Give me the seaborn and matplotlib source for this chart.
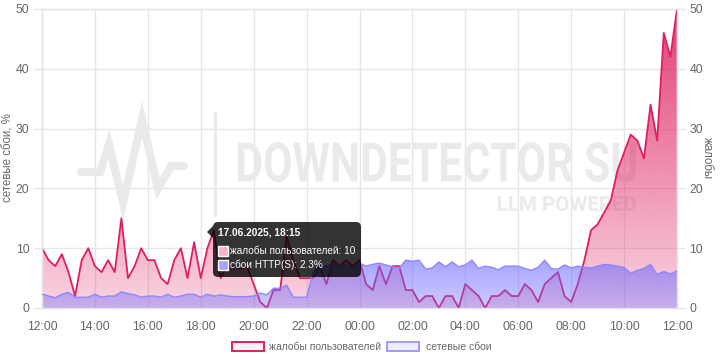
import numpy as np
import pandas as pd
import seaborn as sns
import matplotlib.pyplot as plt
import matplotlib.dates as mdates
from matplotlib.patches import FancyBboxPatch, Rectangle, Polygon, PathPatch
from matplotlib.lines import Line2D
from matplotlib.textpath import TextPath
from matplotlib.font_manager import FontProperties
from matplotlib.transforms import Affine2D

# complaints per 15 min, 17.06.2025 12:00 -> 18.06.2025 12:00
complaints = [10, 8, 7, 9, 6, 2, 8, 10, 7, 6, 8, 6, 15, 5, 7, 10,
              8, 8, 5, 4, 8, 10, 5, 11, 5, 10, 13, 5, 7, 7, 6.5, 7,
              4, 1, 0, 3, 3, 12, 8, 5, 5, 5, 7, 4, 8, 7, 8, 7,
              8, 4, 3, 7, 4, 7, 7, 3, 3, 1, 2, 2, 0, 2, 2, 0,
              4, 3, 2, 0, 2, 2, 3, 2, 2, 4, 3, 1, 4, 5, 6, 2,
              1, 4, 8, 13, 14, 16, 18, 23, 26, 29, 28, 25, 34, 28, 46, 42,
              50]
# network failures, %
failures = [2.3, 2.0, 1.7, 2.3, 2.6, 1.8, 1.8, 1.8, 2.3, 1.8, 2.0, 2.0, 2.7, 2.4, 2.2, 1.8,
            2.0, 2.0, 1.8, 2.3, 1.8, 2.0, 2.3, 2.3, 1.8, 2.3, 2.0, 2.2, 2.0, 1.9, 1.9, 1.9,
            2.0, 2.5, 2.2, 3.3, 3.3, 3.8, 1.8, 1.8, 1.8, 6.0, 7.2, 7.0, 7.3, 7.0, 7.2, 6.8,
            7.5, 7.0, 7.3, 7.5, 7.2, 6.9, 6.7, 8.0, 7.8, 8.0, 6.5, 6.7, 7.7, 6.9, 7.7, 6.9,
            7.2, 8.0, 6.6, 7.0, 6.8, 6.4, 7.0, 7.0, 7.0, 6.6, 6.3, 6.8, 8.0, 6.6, 6.5, 7.2,
            6.7, 7.0, 6.8, 6.7, 7.0, 7.3, 7.2, 7.0, 6.8, 5.8, 6.3, 6.6, 7.3, 5.6, 6.1, 5.7,
            6.2]
times = pd.date_range("2025-06-17 12:00", periods=len(complaints), freq="15min")
x_ticks = pd.date_range("2025-06-17 12:00", "2025-06-18 12:00", freq="2h")
y_ticks = [0, 10, 20, 30, 40, 50]

df = pd.DataFrame({"time": times, "complaints": complaints, "failures": failures})

PINK = "#e01f5f"
PURPLE = "#8f86ff"
GRID = "#e6e6e6"
TXT = "#666666"
WM = "#e9eaec"

sns.set_theme(style="white")
plt.rcParams['font.family'] = ['Liberation Sans', 'DejaVu Sans']

fig = plt.figure(figsize=(7.2, 3.6), dpi=100)
# pixel coords of the picture (y down) -> figure
px = Affine2D().scale(1 / 720, -1 / 360).translate(0, 1) + fig.transFigure

ax = fig.add_axes([42 / 720, 52 / 360, 635 / 720, 299 / 360])   # left: failures
ax2 = ax.twinx()                                                  # right: complaints
ax.set_zorder(2)
ax2.set_zorder(1)
ax.patch.set_visible(False)
ax2.patch.set_visible(True)
ax2.patch.set_facecolor("white")


def gradient_fill(axis, x, y, rgb, a_bottom, a_top, top, z):
    xn = mdates.date2num(x)
    band = axis.fill_between(x, y, 0, facecolor="none", edgecolor="none")
    grad = np.zeros((256, 1, 4))
    grad[:, :, :3] = rgb
    grad[:, 0, 3] = np.linspace(a_bottom, a_top, 256)
    im = axis.imshow(grad, aspect="auto", origin="lower",
                     extent=[xn[0], xn[-1], 0, top], zorder=z)
    im.set_clip_path(band.get_paths()[0], transform=axis.transData)


# grid under everything
for t in x_ticks:
    ax2.axvline(t, color=GRID, lw=1, zorder=0.5)
for v in y_ticks:
    ax2.axhline(v, color=GRID, lw=1, zorder=0.5)

# watermark
logo = [(81, 172), (100, 172), (109, 144), (123, 203), (142, 119),
        (158, 189), (171, 166), (184, 166)]
ax2.add_artist(Line2D([p[0] for p in logo], [p[1] for p in logo], transform=px,
                      color=WM, lw=5.8, solid_joinstyle="miter", zorder=0.7))
ax2.add_artist(Line2D([215, 215], [113, 215], transform=px, color=WM, lw=2.2, zorder=0.7))


def wm_text(s, left, top, right, bottom):
    tp = TextPath((0, 0), s, size=1, prop=FontProperties(family="Roboto", weight="bold"))
    ext = tp.get_extents()
    tr = (Affine2D().translate(-ext.x0, -ext.y0)
          .scale((right - left) / ext.width, -(bottom - top) / ext.height)
          .translate(left, bottom)) + px
    ax2.add_artist(PathPatch(tp, transform=tr, facecolor=WM, edgecolor="none", zorder=0.7))


wm_text("DOWNDETECTOR SU", 238, 142, 636, 182)
wm_text("LLM POWERED", 498, 196, 636, 211)

# complaints (right axis)
gradient_fill(ax2, df["time"], df["complaints"], (224 / 255, 40 / 255, 100 / 255), 0.2, 0.9, 50, 2)
sns.lineplot(data=df, x="time", y="complaints", ax=ax2, color=PINK, lw=1.3, zorder=3)

# network failures (left axis)
gradient_fill(ax, df["time"], df["failures"], (110 / 255, 105 / 255, 1.0), 0.35, 0.6, 8, 2)
sns.lineplot(data=df, x="time", y="failures", ax=ax, color=PURPLE, lw=1.0, zorder=3)

for a in (ax, ax2):
    a.set_xlim(times[0], times[-1])
    a.set_ylim(0, 50)
    a.set_yticks(y_ticks)
    a.tick_params(axis="both", colors=GRID, labelcolor=TXT, labelsize=8.8,
                  length=6, width=1, pad=3)
    for s in a.spines.values():
        s.set_color(GRID)
        s.set_linewidth(1)
    a.set_xlabel("")
    a.set_ylabel("")

ax.set_xticks(x_ticks)
ax.xaxis.set_major_formatter(mdates.DateFormatter("%H:%M"))
fig.text(9, 158, "сетевые сбои, %", transform=px, color=TXT, fontsize=8.3,
         rotation=90, ha="center", va="center")
fig.text(707, 158, "жалобы", transform=px, color=TXT, fontsize=8.3,
         rotation=270, ha="center", va="center")

# tooltip
fig.add_artist(FancyBboxPatch((213, 222), 148, 55, boxstyle="round,pad=0,rounding_size=5",
                              transform=px, facecolor=(0, 0, 0, 0.8), edgecolor="none", zorder=10))
fig.add_artist(Polygon([(207, 232), (213, 226), (213, 238)], closed=True, transform=px,
                       facecolor=(0, 0, 0, 0.8), edgecolor="none", zorder=10))
fig.text(218, 232.5, "17.06.2025, 18:15", transform=px, color="white", fontsize=7.3,
         fontweight="bold", va="center", ha="left", zorder=11)
fig.add_artist(Rectangle((218, 246), 10, 10, transform=px, facecolor="#f6b3c8",
                         edgecolor="white", lw=1, zorder=11))
fig.text(230, 251, "жалобы пользователей: 10", transform=px, color="white", fontsize=7.2,
         va="center", ha="left", zorder=11)
fig.add_artist(Rectangle((218, 260), 10, 10, transform=px, facecolor="#a8a3ff",
                         edgecolor="white", lw=1, zorder=11))
fig.text(230, 264.5, "сбои HTTP(S): 2.3%", transform=px, color="white", fontsize=7.2,
         va="center", ha="left", zorder=11)

# legend
fig.add_artist(Rectangle((232, 342), 32, 9, transform=px, facecolor="#fdf3f6",
                         edgecolor=PINK, lw=1.4, zorder=5))
fig.text(269, 346.5, "жалобы пользователей", transform=px, color=TXT, fontsize=7.5,
         va="center", ha="left")
fig.add_artist(Rectangle((387, 342), 32, 9, transform=px, facecolor="#eeeeff",
                         edgecolor="#a09aff", lw=1.4, zorder=5))
fig.text(426, 346.5, "сетевые сбои", transform=px, color=TXT, fontsize=7.5,
         va="center", ha="left")

fig.savefig("out.png", dpi=100)
